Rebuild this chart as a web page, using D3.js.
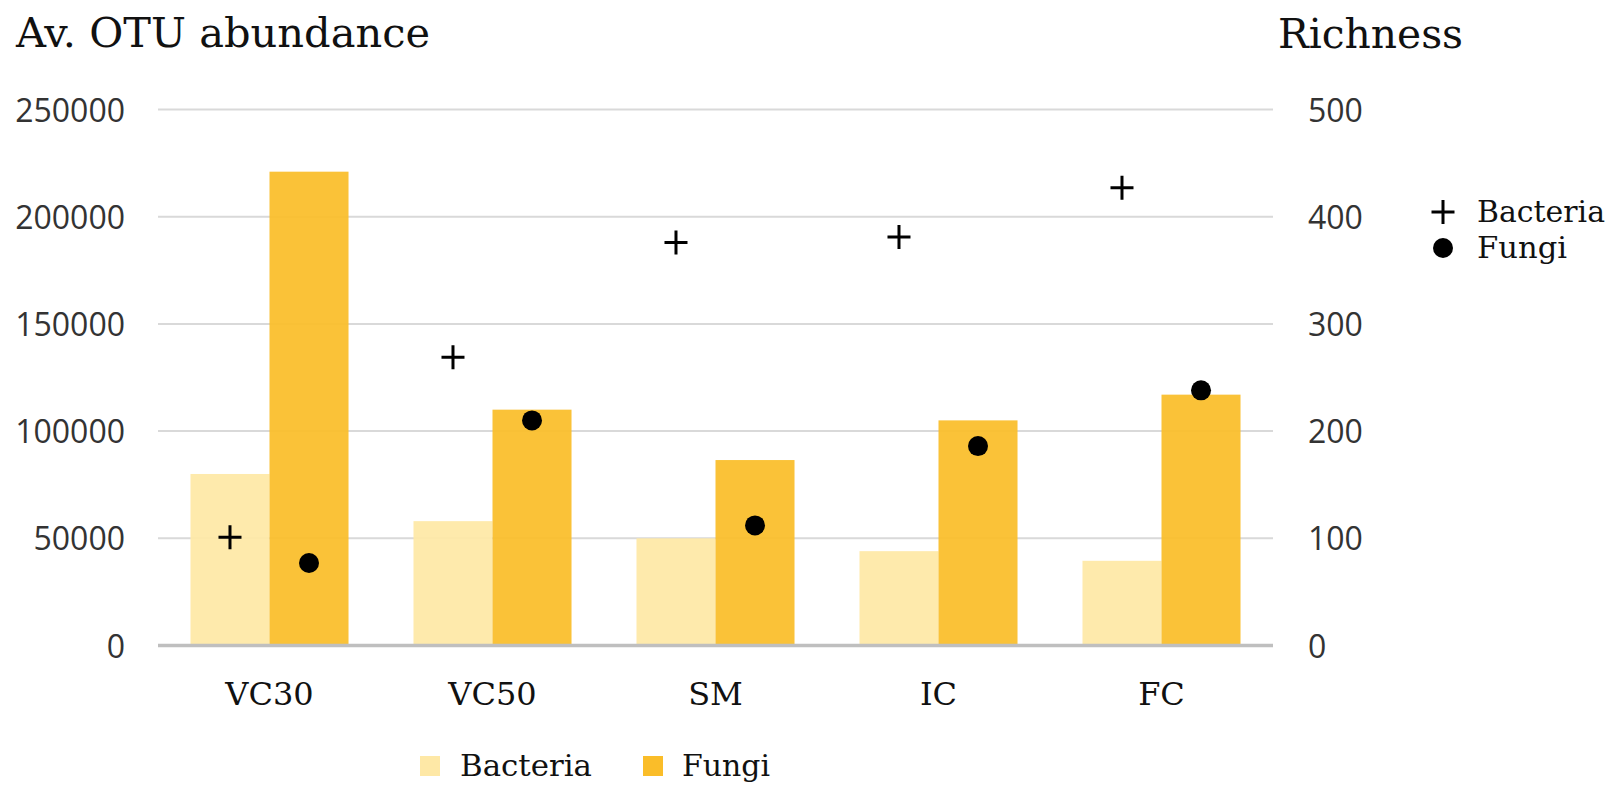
<!DOCTYPE html>
<html>
<head>
<meta charset="utf-8">
<script src="https://cdn.jsdelivr.net/npm/d3@7/dist/d3.min.js"></script>
<style>
  html, body { margin: 0; padding: 0; background: #fff; }
  svg { display: block; }
</style>
</head>
<body>
<svg id="chart" width="1611" height="785"></svg>
<script>
// Sample sites
const categories = ["VC30", "VC50", "SM", "IC", "FC"];
const groups = ["Bacteria", "Fungi"];

// Average OTU abundance (bars, left axis)
const bacteriaAbundance = [80000, 58000, 50000, 44000, 39500];
const fungiAbundance = [221000, 110000, 86500, 105000, 117000];

// Richness (markers, right axis)
const bacteriaRichness = [101, 269, 376, 381, 427];
const fungiRichness = [77, 210, 112, 186, 238];

// Axis ticks
const leftTicks = [0, 50000, 100000, 150000, 200000, 250000];
const rightTicks = [0, 100, 200, 300, 400, 500];

const barColors = { Bacteria: "#fee8a6", Fungi: "#fabd29" };
const serif = "'DejaVu Serif', serif";
const sans = "'Open Sans', 'Liberation Sans', sans-serif";

const svg = d3.select("#chart");

const plot = { left: 158, right: 1273, top: 109.5, bottom: 645.5 };

const x0 = d3.scaleBand().domain(categories).range([plot.left, plot.right]).padding(0);
const x1 = d3.scaleBand().domain(groups).range([0, x0.bandwidth()]).paddingInner(0).paddingOuter(0.411);
const yL = d3.scaleLinear().domain([0, 250000]).range([plot.bottom, plot.top]);
const yR = d3.scaleLinear().domain([0, 500]).range([plot.bottom, plot.top]);

// Horizontal gridlines
svg.append("g")
  .selectAll("line")
  .data(leftTicks.filter(d => d > 0))
  .join("line")
  .attr("x1", plot.left).attr("x2", plot.right)
  .attr("y1", d => yL(d)).attr("y2", d => yL(d))
  .attr("stroke", "#d9d9d9").attr("stroke-width", 2);

// Left axis labels
const leftAxis = d3.axisLeft(yL).tickValues(leftTicks).tickSize(0).tickPadding(0).tickFormat(d3.format("d"));
const gL = svg.append("g").attr("transform", "translate(125,0)").call(leftAxis);
gL.select(".domain").remove();
gL.selectAll("text").attr("font-family", sans).attr("font-size", 32).attr("fill", "#333").attr("dy", "0.36em");

// Right axis labels
const rightAxis = d3.axisRight(yR).tickValues(rightTicks).tickSize(0).tickPadding(0).tickFormat(d3.format("d"));
const gR = svg.append("g").attr("transform", "translate(1308,0)").call(rightAxis);
gR.select(".domain").remove();
gR.selectAll("text").attr("font-family", sans).attr("font-size", 32).attr("fill", "#333").attr("dy", "0.36em");

// Bars
const rows = categories.map((c, i) => ({
  cat: c,
  bars: [
    { key: "Bacteria", value: bacteriaAbundance[i] },
    { key: "Fungi", value: fungiAbundance[i] }
  ]
}));

svg.append("g")
  .selectAll("g")
  .data(rows)
  .join("g")
  .attr("transform", d => `translate(${x0(d.cat)},0)`)
  .selectAll("rect")
  .data(d => d.bars)
  .join("rect")
  .attr("x", d => x1(d.key))
  .attr("width", x1.bandwidth())
  .attr("y", d => yL(d.value))
  .attr("height", d => yL(0) - yL(d.value))
  .attr("fill", d => barColors[d.key])
  .attr("fill-opacity", 0.93);

// Baseline
svg.append("line")
  .attr("x1", plot.left).attr("x2", plot.right)
  .attr("y1", yL(0)).attr("y2", yL(0))
  .attr("stroke", "#bfbfbf").attr("stroke-width", 3.5);

// Category labels
const xAxis = d3.axisBottom(x0).tickSize(0).tickPadding(0);
const gX = svg.append("g").attr("transform", "translate(0,705)").call(xAxis);
gX.select(".domain").remove();
gX.selectAll("text").attr("font-family", serif).attr("font-size", 32).attr("fill", "#111").attr("dy", 0);

// Richness markers
const plusPath = "M-11.5,0H11.5M0,-12V12";
svg.append("g")
  .selectAll("path")
  .data(bacteriaRichness.map((v, i) => ({ cat: categories[i], v })))
  .join("path")
  .attr("transform", d => `translate(${x0(d.cat) + x1("Bacteria") + x1.bandwidth() / 2},${yR(d.v)})`)
  .attr("d", plusPath)
  .attr("stroke", "#000").attr("stroke-width", 3).attr("fill", "none");

svg.append("g")
  .selectAll("circle")
  .data(fungiRichness.map((v, i) => ({ cat: categories[i], v })))
  .join("circle")
  .attr("cx", d => x0(d.cat) + x1("Fungi") + x1.bandwidth() / 2)
  .attr("cy", d => yR(d.v))
  .attr("r", 10)
  .attr("fill", "#000");

// Axis titles
svg.append("text")
  .attr("x", 16).attr("y", 47)
  .attr("font-family", serif).attr("font-size", 41).attr("fill", "#111")
  .attr("textLength", 414).attr("lengthAdjust", "spacingAndGlyphs")
  .text("Av. OTU abundance");
svg.append("text")
  .attr("x", 1278).attr("y", 48)
  .attr("font-family", serif).attr("font-size", 41).attr("fill", "#111")
  .attr("textLength", 185).attr("lengthAdjust", "spacingAndGlyphs")
  .text("Richness");

// Richness legend (right)
const rl = svg.append("g");
rl.append("path").attr("transform", "translate(1443,212)").attr("d", plusPath)
  .attr("stroke", "#000").attr("stroke-width", 3).attr("fill", "none");
rl.append("circle").attr("cx", 1443).attr("cy", 248).attr("r", 10).attr("fill", "#000");
rl.append("text").attr("x", 1477).attr("y", 222)
  .attr("font-family", serif).attr("font-size", 30).attr("fill", "#111")
  .attr("textLength", 128).attr("lengthAdjust", "spacingAndGlyphs").text("Bacteria");
rl.append("text").attr("x", 1477).attr("y", 258)
  .attr("font-family", serif).attr("font-size", 30).attr("fill", "#111")
  .attr("textLength", 90).attr("lengthAdjust", "spacingAndGlyphs").text("Fungi");

// Abundance legend (bottom)
const bl = svg.append("g");
const legendItems = [
  { key: "Bacteria", sx: 420, tx: 460, w: 132 },
  { key: "Fungi", sx: 643, tx: 682, w: 88 }
];
bl.selectAll("rect").data(legendItems).join("rect")
  .attr("x", d => d.sx).attr("y", 756).attr("width", 20).attr("height", 20)
  .attr("fill", d => barColors[d.key]);
bl.selectAll("text").data(legendItems).join("text")
  .attr("x", d => d.tx).attr("y", 776)
  .attr("font-family", serif).attr("font-size", 29).attr("fill", "#111")
  .attr("textLength", d => d.w).attr("lengthAdjust", "spacingAndGlyphs")
  .text(d => d.key);
</script>
</body>
</html>
